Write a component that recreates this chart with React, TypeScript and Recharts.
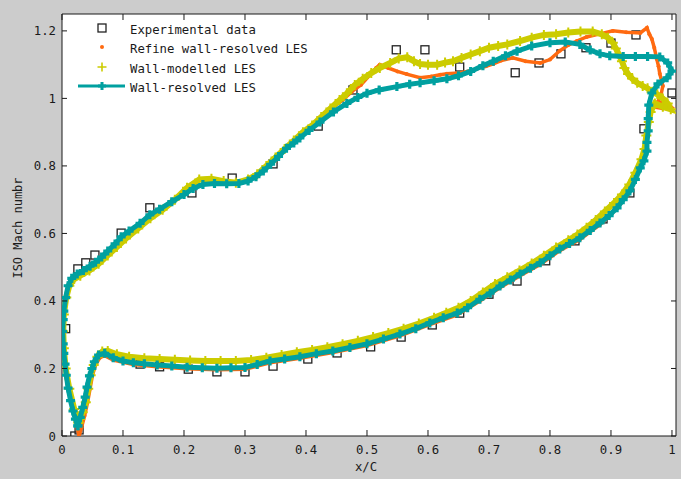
import {
  ComposedChart,
  Scatter,
  XAxis,
  YAxis,
  CartesianGrid,
  ReferenceLine,
  Legend,
} from 'recharts';

// isentropic Mach number around the blade, x/C vs M
const experimental: [number, number][] = [
  [0.006, 0.318], [0.026, 0.495], [0.039, 0.513], [0.054, 0.536], [0.097, 0.601],
  [0.144, 0.676], [0.213, 0.72], [0.279, 0.764], [0.346, 0.806], [0.42, 0.918],
  [0.477, 1.025], [0.548, 1.144], [0.595, 1.144], [0.652, 1.093], [0.743, 1.076],
  [0.782, 1.105], [0.818, 1.132], [0.859, 1.15], [0.9, 1.164], [0.941, 1.188],
  [1.0, 1.016], [0.954, 0.91], [0.931, 0.72], [0.887, 0.643], [0.841, 0.578],
  [0.793, 0.519], [0.746, 0.459], [0.7, 0.42], [0.652, 0.364], [0.607, 0.329],
  [0.556, 0.293], [0.506, 0.264], [0.451, 0.246], [0.403, 0.228], [0.346, 0.207],
  [0.3, 0.19], [0.254, 0.19], [0.207, 0.198], [0.16, 0.205], [0.128, 0.213],
  [0.021, 0.0], [0.028, 0.018],
];

const refineWallResolved: [number, number][] = [
  [0.028, 0.0], [0.022, 0.05], [0.015, 0.1], [0.009, 0.16], [0.005, 0.22], [0.002, 0.28],
  [0.002, 0.33], [0.004, 0.38], [0.009, 0.43], [0.016, 0.463], [0.03, 0.48], [0.05, 0.505],
  [0.07, 0.535], [0.09, 0.568], [0.11, 0.6], [0.13, 0.628], [0.15, 0.655], [0.17, 0.68],
  [0.19, 0.705], [0.21, 0.73], [0.23, 0.745], [0.25, 0.75], [0.27, 0.748], [0.29, 0.75],
  [0.31, 0.76], [0.325, 0.78], [0.34, 0.805], [0.355, 0.83], [0.37, 0.86], [0.385, 0.885],
  [0.4, 0.905], [0.415, 0.93], [0.43, 0.955], [0.445, 0.975], [0.46, 0.995], [0.475, 1.02],
  [0.49, 1.04], [0.505, 1.07], [0.515, 1.09], [0.521, 1.1], [0.535, 1.09], [0.55, 1.08],
  [0.565, 1.072], [0.587, 1.061], [0.605, 1.065], [0.62, 1.07], [0.631, 1.073], [0.65, 1.075],
  [0.665, 1.08], [0.68, 1.088], [0.695, 1.095], [0.707, 1.102], [0.72, 1.112], [0.739, 1.12],
  [0.76, 1.11], [0.784, 1.105], [0.8, 1.115], [0.816, 1.141], [0.83, 1.158], [0.844, 1.17],
  [0.86, 1.182], [0.882, 1.191], [0.903, 1.2], [0.925, 1.196], [0.948, 1.194], [0.959, 1.209],
  [0.963, 1.19], [0.967, 1.176], [0.971, 1.15], [0.975, 1.117], [0.978, 1.095], [0.98, 1.073],
  [0.985, 1.037], [0.982, 1.01], [0.977, 0.99], [0.99, 0.985], [0.998, 0.975], [0.985, 0.97],
  [0.968, 0.975], [0.962, 0.94], [0.96, 0.9], [0.958, 0.86], [0.952, 0.81], [0.946, 0.785],
  [0.93, 0.72], [0.909, 0.672], [0.882, 0.626], [0.849, 0.582], [0.816, 0.549], [0.784, 0.508],
  [0.751, 0.475], [0.718, 0.439], [0.685, 0.4], [0.648, 0.359], [0.603, 0.33], [0.554, 0.297],
  [0.5, 0.268], [0.444, 0.247], [0.39, 0.23], [0.341, 0.217], [0.3, 0.198], [0.254, 0.196],
  [0.205, 0.199], [0.156, 0.205], [0.117, 0.212], [0.084, 0.225], [0.07, 0.238], [0.062, 0.232],
  [0.055, 0.21], [0.05, 0.18], [0.046, 0.14], [0.042, 0.1], [0.037, 0.06], [0.032, 0.025],
  [0.028, 0.0],
];

const wallModelled: [number, number][] = [
  [0.027, 0.04], [0.02, 0.08], [0.012, 0.14], [0.006, 0.2], [0.003, 0.26], [0.002, 0.31],
  [0.003, 0.36], [0.007, 0.41], [0.012, 0.445], [0.02, 0.465], [0.03, 0.475], [0.045, 0.49],
  [0.06, 0.51], [0.075, 0.535], [0.09, 0.56], [0.105, 0.585], [0.125, 0.615], [0.145, 0.645],
  [0.165, 0.67], [0.185, 0.7], [0.205, 0.735], [0.225, 0.76], [0.245, 0.762], [0.265, 0.755],
  [0.285, 0.75], [0.305, 0.76], [0.32, 0.775], [0.335, 0.8], [0.35, 0.825], [0.365, 0.85],
  [0.38, 0.875], [0.395, 0.9], [0.41, 0.92], [0.425, 0.945], [0.44, 0.97], [0.455, 0.995],
  [0.467, 1.015], [0.48, 1.04], [0.493, 1.058], [0.507, 1.075], [0.521, 1.09], [0.538, 1.105],
  [0.552, 1.118], [0.566, 1.122], [0.577, 1.11], [0.587, 1.102], [0.6, 1.1], [0.615, 1.1],
  [0.628, 1.106], [0.641, 1.11], [0.655, 1.12], [0.67, 1.13], [0.685, 1.14], [0.7, 1.15],
  [0.715, 1.155], [0.73, 1.16], [0.751, 1.17], [0.77, 1.18], [0.79, 1.188], [0.81, 1.19],
  [0.83, 1.195], [0.85, 1.198], [0.87, 1.198], [0.885, 1.19], [0.895, 1.18], [0.903, 1.165],
  [0.908, 1.148], [0.913, 1.13], [0.918, 1.11], [0.922, 1.09], [0.928, 1.072], [0.935, 1.058],
  [0.943, 1.046], [0.952, 1.037], [0.96, 1.03], [0.968, 1.02], [0.976, 1.012], [0.985, 1.0],
  [0.993, 0.985], [0.998, 0.968], [0.985, 0.975], [0.972, 0.985], [0.965, 0.96], [0.962, 0.93],
  [0.958, 0.89], [0.955, 0.85], [0.95, 0.82], [0.94, 0.78], [0.93, 0.745], [0.918, 0.715],
  [0.905, 0.69], [0.89, 0.665], [0.875, 0.64], [0.86, 0.617], [0.845, 0.597], [0.83, 0.58],
  [0.81, 0.558], [0.79, 0.534], [0.77, 0.511], [0.75, 0.49], [0.73, 0.47], [0.71, 0.45],
  [0.69, 0.425], [0.67, 0.4], [0.65, 0.38], [0.63, 0.365], [0.61, 0.35], [0.585, 0.333],
  [0.56, 0.318], [0.535, 0.305], [0.51, 0.293], [0.485, 0.282], [0.46, 0.272], [0.435, 0.263],
  [0.41, 0.255], [0.385, 0.248], [0.36, 0.24], [0.335, 0.232], [0.31, 0.225], [0.285, 0.222],
  [0.26, 0.222], [0.235, 0.222], [0.21, 0.224], [0.185, 0.226], [0.16, 0.228], [0.135, 0.23],
  [0.11, 0.235], [0.09, 0.242], [0.075, 0.252], [0.066, 0.25], [0.058, 0.235], [0.052, 0.21],
  [0.047, 0.18], [0.043, 0.14], [0.039, 0.1], [0.034, 0.07], [0.03, 0.05], [0.027, 0.04],
];

const wallResolved: [number, number][] = [
  [0.026, 0.03], [0.022, 0.05], [0.018, 0.074], [0.014, 0.105], [0.01, 0.142], [0.007, 0.18],
  [0.005, 0.213], [0.003, 0.245], [0.002, 0.273], [0.001, 0.31], [0.002, 0.345], [0.003, 0.37],
  [0.006, 0.41], [0.01, 0.445], [0.016, 0.467], [0.025, 0.48], [0.035, 0.49], [0.046, 0.503],
  [0.055, 0.515], [0.065, 0.53], [0.075, 0.548], [0.087, 0.569], [0.097, 0.59], [0.11, 0.607],
  [0.128, 0.63], [0.144, 0.655], [0.16, 0.672], [0.18, 0.694], [0.2, 0.715], [0.215, 0.733],
  [0.231, 0.745], [0.25, 0.748], [0.27, 0.747], [0.29, 0.748], [0.305, 0.755], [0.318, 0.768],
  [0.33, 0.785], [0.342, 0.805], [0.355, 0.828], [0.368, 0.852], [0.38, 0.868], [0.39, 0.883],
  [0.405, 0.905], [0.423, 0.93], [0.445, 0.96], [0.467, 0.985], [0.485, 1.003], [0.5, 1.015],
  [0.52, 1.025], [0.549, 1.035], [0.57, 1.042], [0.587, 1.046], [0.61, 1.052], [0.631, 1.058],
  [0.65, 1.067], [0.67, 1.08], [0.69, 1.097], [0.707, 1.11], [0.727, 1.126], [0.746, 1.14],
  [0.77, 1.155], [0.8, 1.165], [0.825, 1.167], [0.849, 1.16], [0.866, 1.143], [0.882, 1.132],
  [0.898, 1.126], [0.92, 1.124], [0.94, 1.124], [0.96, 1.124], [0.98, 1.123], [0.993, 1.105],
  [1.0, 1.081], [0.992, 1.061], [0.977, 1.043], [0.967, 1.016], [0.962, 0.98], [0.961, 0.94],
  [0.961, 0.904], [0.959, 0.87], [0.959, 0.844], [0.954, 0.815], [0.948, 0.794], [0.94, 0.76],
  [0.931, 0.726], [0.92, 0.7], [0.91, 0.676], [0.897, 0.653], [0.882, 0.631], [0.866, 0.609],
  [0.849, 0.587], [0.832, 0.57], [0.816, 0.554], [0.8, 0.534], [0.784, 0.513], [0.768, 0.497],
  [0.751, 0.48], [0.735, 0.462], [0.718, 0.444], [0.702, 0.423], [0.685, 0.405], [0.665, 0.38],
  [0.648, 0.364], [0.625, 0.35], [0.603, 0.335], [0.58, 0.318], [0.554, 0.302], [0.527, 0.287],
  [0.5, 0.273], [0.472, 0.262], [0.444, 0.252], [0.417, 0.244], [0.39, 0.235], [0.365, 0.228],
  [0.341, 0.222], [0.32, 0.212], [0.3, 0.203], [0.277, 0.202], [0.254, 0.201], [0.23, 0.202],
  [0.205, 0.204], [0.18, 0.207], [0.156, 0.21], [0.135, 0.214], [0.117, 0.217], [0.1, 0.222],
  [0.084, 0.232], [0.07, 0.245], [0.06, 0.24], [0.053, 0.22], [0.049, 0.2], [0.045, 0.178],
  [0.041, 0.145], [0.038, 0.115], [0.034, 0.085], [0.03, 0.055], [0.026, 0.03],
];

const xTicks = [0, 0.1, 0.2, 0.3, 0.4, 0.5, 0.6, 0.7, 0.8, 0.9, 1];
const yTicks = [0, 0.2, 0.4, 0.6, 0.8, 1, 1.2];

const W = 681;
const H = 479;
const PLOT_LEFT = 62;
const PLOT_RIGHT = 676;
const PLOT_TOP = 14;
const PLOT_BOTTOM = 436;

const FONT = '"DejaVu Sans Mono", monospace';
const INK = '#1a1a1a';
const TEAL = '#00a0a0';
const YELLOW = '#cccc00';
const ORANGE = '#ff6a10';

const toPoints = (pts: [number, number][]) => pts.map(([x, y]) => ({ x, y }));

const plusPath = (cx: number, cy: number, r: number) =>
  `M${cx - r},${cy}H${cx + r}M${cx},${cy - r}V${cy + r}`;

const SquareMark = (p: any) => (
  <rect x={p.cx - 4} y={p.cy - 4} width={8} height={8} fill="none" stroke="#222" strokeWidth={1.3} />
);
const DotMark = (p: any) => <circle cx={p.cx} cy={p.cy} r={2} fill={ORANGE} />;
const YellowPlus = (p: any) => (
  <path d={plusPath(p.cx, p.cy, 5)} stroke={YELLOW} strokeWidth={2} fill="none" />
);
const TealPlus = (p: any) => (
  <path d={plusPath(p.cx, p.cy, 4.5)} stroke={TEAL} strokeWidth={3.2} fill="none" />
);

const XTick = ({ x, payload }: any) => (
  <g>
    <line x1={x} x2={x} y1={PLOT_BOTTOM} y2={PLOT_BOTTOM - 6} stroke={INK} />
    <line x1={x} x2={x} y1={PLOT_TOP} y2={PLOT_TOP + 6} stroke={INK} />
    <text x={x} y={454} textAnchor="middle" fontFamily={FONT} fontSize={12.3} fill={INK}>
      {String(payload.value)}
    </text>
  </g>
);

const YTick = ({ y, payload }: any) => (
  <g>
    <line x1={PLOT_LEFT} x2={PLOT_LEFT + 5} y1={y} y2={y} stroke={INK} />
    <line x1={PLOT_RIGHT} x2={PLOT_RIGHT - 5} y1={y} y2={y} stroke={INK} />
    <text x={56} y={y + 4.5} textAnchor="end" fontFamily={FONT} fontSize={12.3} fill={INK}>
      {String(payload.value)}
    </text>
  </g>
);

const legendRows = [
  { name: 'Experimental data', y: 34 },
  { name: 'Refine wall-resolved LES', y: 53 },
  { name: 'Wall-modelled LES', y: 73 },
  { name: 'Wall-resolved LES', y: 92 },
];

const LegendBox = () => (
  <svg width={320} height={100} style={{ display: 'block' }}>
    <rect x={98} y={24} width={8} height={8} fill="none" stroke="#222" strokeWidth={1.3} />
    <circle cx={102} cy={47} r={2} fill={ORANGE} />
    <path d={plusPath(102, 67, 4.5)} stroke={YELLOW} strokeWidth={1.6} />
    <line x1={78} x2={125} y1={86} y2={86} stroke={TEAL} strokeWidth={3} />
    <path d={plusPath(102, 86, 4)} stroke={TEAL} strokeWidth={3} />
    {legendRows.map((r) => (
      <text key={r.name} x={130} y={r.y} fontFamily={FONT} fontSize={12.3} fill={INK}>
        {r.name}
      </text>
    ))}
  </svg>
);

export default function App() {
  return (
    <div style={{ position: 'absolute', left: 0, top: 0, width: W, height: H, background: '#cccccc' }}>
      <ComposedChart width={W} height={H} margin={{ top: PLOT_TOP, right: W - PLOT_RIGHT, bottom: 13, left: 2 }}>
        <CartesianGrid fill="#ffffff" horizontal={false} vertical={false} />
        <XAxis
          type="number"
          dataKey="x"
          domain={[0, 1.0066]}
          ticks={xTicks}
          height={30}
          tickLine={false}
          tick={<XTick />}
          axisLine={{ stroke: INK }}
          allowDataOverflow
          label={{
            content: () => (
              <text x={366} y={471} textAnchor="middle" fontFamily={FONT} fontSize={12.3} fill={INK}>
                x/C
              </text>
            ),
          }}
        />
        <YAxis
          type="number"
          dataKey="y"
          domain={[0, 1.25]}
          ticks={yTicks}
          width={60}
          tickLine={false}
          tick={<YTick />}
          axisLine={{ stroke: INK }}
          allowDataOverflow
          label={{
            content: () => (
              <text
                x={22}
                y={228}
                transform="rotate(-90 22 228)"
                textAnchor="middle"
                fontFamily={FONT}
                fontSize={12}
                fill={INK}
              >
                ISO Mach numbr
              </text>
            ),
          }}
        />
        <ReferenceLine y={1.25} stroke={INK} />
        <ReferenceLine x={1.0066} stroke={INK} />
        <Legend
          content={<LegendBox />}
          layout="vertical"
          align="center"
          verticalAlign="middle"
          wrapperStyle={{ position: 'absolute', left: 0, top: 0, width: 320, height: 100 }}
        />
        <Scatter
          name="Experimental data"
          data={toPoints(experimental)}
          shape={SquareMark}
          isAnimationActive={false}
        />
        <Scatter
          name="Refine wall-resolved LES"
          data={toPoints(refineWallResolved)}
          line={{ stroke: ORANGE, strokeWidth: 3.5 }}
          shape={DotMark}
          isAnimationActive={false}
        />
        <Scatter
          name="Wall-modelled LES"
          data={toPoints(wallModelled)}
          line={{ stroke: YELLOW, strokeWidth: 6 }}
          shape={YellowPlus}
          isAnimationActive={false}
        />
        <Scatter
          name="Wall-resolved LES"
          data={toPoints(wallResolved)}
          line={{ stroke: TEAL, strokeWidth: 5 }}
          shape={TealPlus}
          isAnimationActive={false}
        />
      </ComposedChart>
    </div>
  );
}
